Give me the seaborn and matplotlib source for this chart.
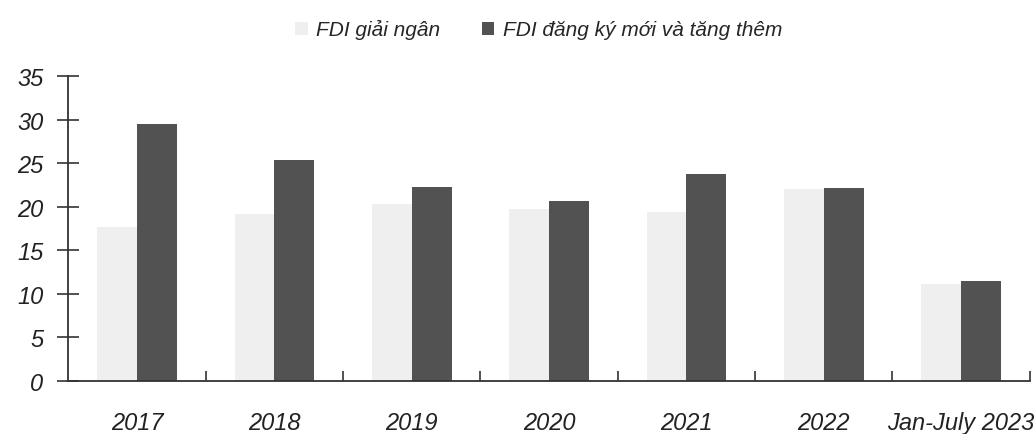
import pandas as pd
import seaborn as sns
import matplotlib.pyplot as plt
import matplotlib.ticker as ticker

periods = ["2017", "2018", "2019", "2020", "2021", "2022", "Jan-July 2023"]
disbursed = [17.7, 19.2, 20.3, 19.7, 19.4, 22.0, 11.1]
registered = [29.5, 25.4, 22.3, 20.7, 23.8, 22.2, 11.5]
series_names = ["FDI giải ngân", "FDI đăng ký mới và tăng thêm"]


def main():
    df = pd.DataFrame({
        "period": periods * 2,
        "value": disbursed + registered,
        "series": [series_names[0]] * len(periods) + [series_names[1]] * len(periods),
    })

    sns.set_theme(style="white")
    plt.rcParams["font.family"] = ["Liberation Sans Narrow", "Liberation Sans", "DejaVu Sans"]
    plt.rcParams["font.style"] = "italic"

    fig = plt.figure(figsize=(10.36, 4.35), dpi=100)
    ax = fig.add_axes([0.066, 0.122, 0.928, 0.701])
    sns.barplot(df, x="period", y="value", hue="series",
                palette=["#efefef", "#525252"], width=0.58, ax=ax,
                edgecolor="none", saturation=1)

    ax.set_ylim(0, 35)
    ax.set_xlim(-0.5, 6.5)
    ax.yaxis.set_major_locator(ticker.MultipleLocator(5))
    ax.set_xlabel("")
    ax.set_ylabel("")
    for s in ["top", "right"]:
        ax.spines[s].set_visible(False)
    for s in ["left", "bottom"]:
        ax.spines[s].set_color("#333333")
        ax.spines[s].set_linewidth(1.3)

    ax.tick_params(axis="y", direction="inout", length=16, width=1.2,
                   color="#333333", labelsize=17, pad=10, left=True)
    ax.tick_params(axis="x", which="major", length=0, labelsize=17, pad=22)
    ax.xaxis.set_minor_locator(ticker.FixedLocator([i + 0.5 for i in range(7)]))
    ax.tick_params(axis="x", which="minor", direction="in", length=7,
                   width=1.2, color="#333333", bottom=True)
    for lbl in ax.get_xticklabels() + ax.get_yticklabels():
        lbl.set_fontstyle("italic")
        lbl.set_color("#222222")

    handles, labels = ax.get_legend_handles_labels()
    ax.legend(handles, labels, loc="center", bbox_to_anchor=(0.52, 0.93),
              bbox_transform=fig.transFigure, ncol=2, frameon=False,
              handlelength=0.6, handleheight=0.6,
              handletextpad=0.4, columnspacing=2.0,
              prop={"style": "italic", "size": 15})

    fig.savefig("out.png", dpi=100)


if __name__ == "__main__":
    main()
